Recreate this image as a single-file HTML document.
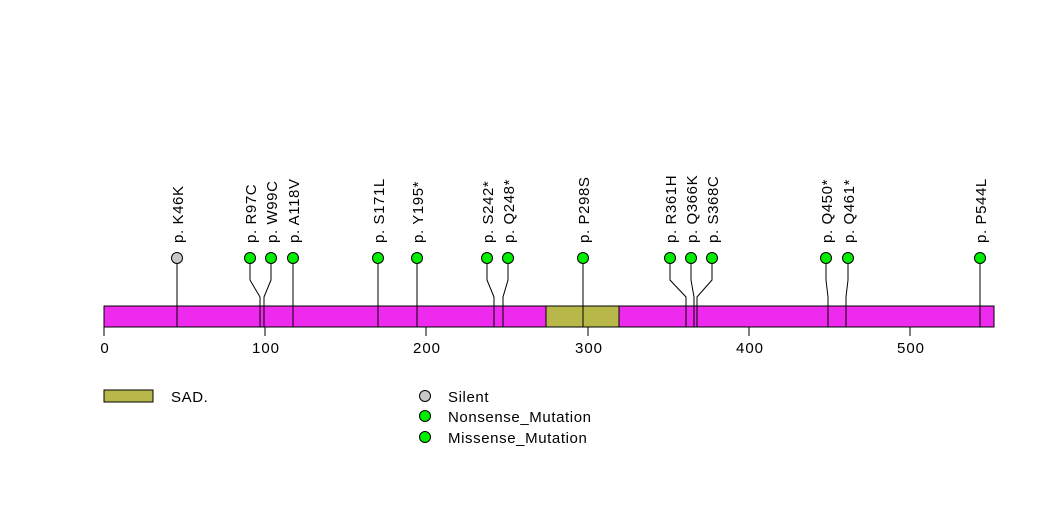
<!DOCTYPE html>
<html><head><meta charset="utf-8"><style>
html,body{margin:0;padding:0;background:#fff;}
svg{display:block;}
text{font-family:"Liberation Sans",sans-serif;fill:#000;}
</style></head><body>
<svg width="1047" height="524" viewBox="0 0 1047 524" xmlns="http://www.w3.org/2000/svg">
<g stroke="#000" stroke-width="1" fill="none">
<path d="M177 264V327"/>
<path d="M250 264V280L260 297V327"/>
<path d="M271 264V280L264 297V327"/>
<path d="M293 264V327"/>
<path d="M378 264V327"/>
<path d="M417 264V327"/>
<path d="M487 264V280L494 297V327"/>
<path d="M508 264V280L503 297V327"/>
<path d="M583 264V327"/>
<path d="M670 264V280L686 297V327"/>
<path d="M691 264V280L694 297V327"/>
<path d="M712 264V280L697 297V327"/>
<path d="M826 264V280L828 297V327"/>
<path d="M848 264V280L846 297V327"/>
<path d="M980 264V327"/>
</g>
<rect x="104" y="306" width="890" height="21" fill="#ee2aee" stroke="#000"/>
<rect x="546" y="306" width="73" height="21" fill="#b8b84a" stroke="#000"/>
<g stroke="#000" fill="none">
<path d="M177 306V327M260 306V327M264 306V327M293 306V327M378 306V327M417 306V327M494 306V327M503 306V327M583 306V327M686 306V327M694 306V327M697 306V327M828 306V327M846 306V327M980 306V327"/>
<path d="M104 327V336M265 327V336M426 327V336M588 327V336M749 327V336M910 327V336"/>
</g>
<g font-size="15" text-anchor="middle" letter-spacing="1">
<text x="105" y="353">0</text><text x="266" y="353">100</text><text x="427" y="353">200</text><text x="589" y="353">300</text><text x="750" y="353">400</text><text x="911" y="353">500</text>
</g>
<g stroke="#000" fill="#00ee00">
<circle cx="177" cy="258" r="5.5" fill="#c8c8c8"/>
<circle cx="250" cy="258" r="5.5"/><circle cx="271" cy="258" r="5.5"/><circle cx="293" cy="258" r="5.5"/>
<circle cx="378" cy="258" r="5.5"/><circle cx="417" cy="258" r="5.5"/><circle cx="487" cy="258" r="5.5"/>
<circle cx="508" cy="258" r="5.5"/><circle cx="583" cy="258" r="5.5"/><circle cx="670" cy="258" r="5.5"/>
<circle cx="691" cy="258" r="5.5"/><circle cx="712" cy="258" r="5.5"/><circle cx="826" cy="258" r="5.5"/>
<circle cx="848" cy="258" r="5.5"/><circle cx="980" cy="258" r="5.5"/>
</g>
<g font-size="15" letter-spacing="0.6">
<text transform="translate(183,243) rotate(-90)">p. K46K</text>
<text transform="translate(256,243) rotate(-90)">p. R97C</text>
<text transform="translate(277,243) rotate(-90)">p. W99C</text>
<text transform="translate(299,243) rotate(-90)">p. A118V</text>
<text transform="translate(384,243) rotate(-90)">p. S171L</text>
<text transform="translate(423,243) rotate(-90)">p. Y195*</text>
<text transform="translate(493,243) rotate(-90)">p. S242*</text>
<text transform="translate(514,243) rotate(-90)">p. Q248*</text>
<text transform="translate(589,243) rotate(-90)">p. P298S</text>
<text transform="translate(676,243) rotate(-90)">p. R361H</text>
<text transform="translate(697,243) rotate(-90)">p. Q366K</text>
<text transform="translate(718,243) rotate(-90)">p. S368C</text>
<text transform="translate(832,243) rotate(-90)">p. Q450*</text>
<text transform="translate(854,243) rotate(-90)">p. Q461*</text>
<text transform="translate(986,243) rotate(-90)">p. P544L</text>
</g>
<rect x="104" y="390" width="49" height="12" fill="#b8b84a" stroke="#000"/>
<g font-size="15" letter-spacing="0.6">
<text x="171" y="402">SAD.</text>
<text x="448" y="402">Silent</text>
<text x="448" y="422">Nonsense_Mutation</text>
<text x="448" y="443">Missense_Mutation</text>
</g>
<circle cx="425" cy="396" r="5.5" fill="#c8c8c8" stroke="#000"/>
<circle cx="425" cy="416" r="5.5" fill="#00ee00" stroke="#000"/>
<circle cx="425" cy="437" r="5.5" fill="#00ee00" stroke="#000"/>
</svg>
</body></html>
